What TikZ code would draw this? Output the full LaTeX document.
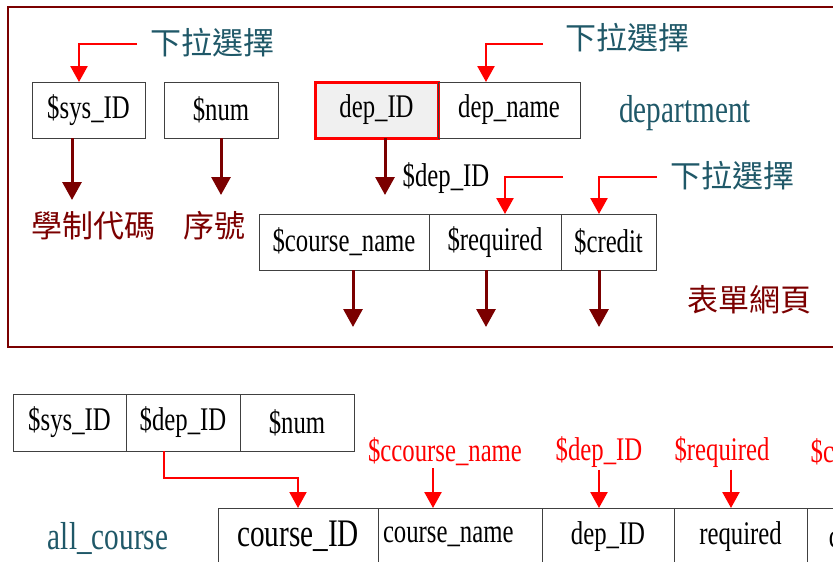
\documentclass[tikz,border=0pt]{standalone}
\usepackage{fontspec}
\setmainfont{Liberation Serif}[FakeStretch=0.75]
\newfontfamily\cjk{Noto Sans CJK TC}
\usepackage{xcolor}
\usepackage{tikz}
\usetikzlibrary{positioning,arrows.meta}
\definecolor{ink}{HTML}{404040}
\definecolor{flowred}{HTML}{7B0000}
\definecolor{tealtext}{HTML}{1F5868}
\definecolor{keygray}{HTML}{F0F0F0}
\newcommand\cellfont{\fontsize{33}{35}\selectfont}
\newcommand\bigfont{\fontsize{39}{42}\selectfont}
\newcommand\cjkfont{\cjk\fontsize{31}{33}\selectfont}
\tikzset{
  cell/.style={draw=ink, line width=1pt, inner sep=0pt, outer sep=0pt, minimum height=56pt, font=\cellfont},
  keycell/.style={cell, draw=red, fill=keygray, line width=3pt},
  pick/.style={draw=red, line width=2.5pt, -{Triangle[width=17pt,length=16pt]}},
  flow/.style={draw=flowred, line width=3pt, -{Triangle[width=19pt,length=18pt]}},
  tag/.style={text=tealtext, font=\cjkfont},
  zh/.style={text=flowred, font=\cjkfont},
  tname/.style={text=tealtext, font=\bigfont},
  redlab/.style={text=red, font=\cellfont, inner sep=2pt},
}
\begin{document}
\begin{tikzpicture}[x=1pt,y=-1pt]
  \useasboundingbox (0,0) rectangle (833,562);
  \clip (0,0) rectangle (833,562);

  % form page
  \draw[flowred, line width=2pt] (8,7) rectangle (845,347);
  \node[zh] (form) at (749,300) {表單網頁};

  % first row
  \node[cell, minimum width=113pt] (sys) at (88.5,110) {\$sys\_ID};
  \node[cell, minimum width=114pt] (num) at (221,110) {\$num};
  \node[keycell, minimum width=123pt] (depid) at (376.5,110) {dep\_ID};
  \node[cell, minimum width=142pt, right=0pt of depid] (depname) {dep\_name};
  \node[tname] (dept) at (685,113) {department};

  \node[tag] (sel1) at (212,43) {下拉選擇};
  \node[tag] (sel2) at (627,38) {下拉選擇};
  \coordinate (p1) at (137,44);
  \coordinate (p2) at (543,44);
  \draw[pick] (p1) -| ([xshift=-9.5pt]sys.north);
  \draw[pick] (p2) -| ([xshift=-23pt]depname.north);

  \node[zh] (sysname) at (93,226) {學制代碼};
  \node[zh] (numname) at (214,226) {序號};
  \coordinate (d1) at (72,200);
  \coordinate (d2) at (221,195);
  \coordinate (d3) at (385,195);
  \draw[flow] (sys.south -| d1) -- (d1);
  \draw[flow] (num.south -| d2) -- (d2);
  \draw[flow] (depid.south -| d3) -- (d3);
  \node[font=\cellfont] (depvar) at (446,178) {\$dep\_ID};

  % second row
  \node[cell, minimum width=170pt] (cname) at (344,242) {\$course\_name};
  \node[cell, minimum width=132pt, right=0pt of cname] (req) {\$required};
  \node[cell, minimum width=95pt, right=0pt of req] (cred) {\$credit};

  \node[tag] (sel3) at (732,176) {下拉選擇};
  \coordinate (p3) at (563,177);
  \coordinate (p4) at (657,177);
  \draw[pick] (p3) -| ([xshift=10pt]req.north);
  \draw[pick] (p4) -| ([xshift=-9.5pt]cred.north);

  \coordinate (o1) at (353,327);
  \coordinate (o2) at (486,327);
  \coordinate (o3) at (599,327);
  \draw[flow] (cname.south -| o1) -- (o1);
  \draw[flow] (req.south -| o2) -- (o2);
  \draw[flow] (cred.south -| o3) -- (o3);

  % posted values
  \node[cell, minimum width=113pt, minimum height=57pt] (sys2) at (69.5,422.5) {\$sys\_ID};
  \node[cell, minimum width=114pt, minimum height=57pt, right=0pt of sys2] (dep2) {\$dep\_ID};
  \node[cell, minimum width=114pt, minimum height=57pt, right=0pt of dep2] (num2) {\$num};

  % all_course table
  \node[tname] (allc) at (108,538) {all\_course};
  \node[cell, minimum width=160pt, minimum height=57pt, font=\bigfont] (cid) at (298,536.5) {course\_ID};
  \node[cell, minimum width=164pt, minimum height=57pt, text width=154pt, align=left, right=0pt of cid] (cname2) {course\_name};
  \node[cell, minimum width=132pt, minimum height=57pt, right=0pt of cname2] (bdep) {dep\_ID};
  \node[cell, minimum width=133pt, minimum height=57pt, right=0pt of bdep] (breq) {required};
  \node[cell, minimum width=100pt, minimum height=57pt, right=0pt of breq] (bcred) {credit};

  \draw[pick, line width=2pt] ([xshift=-19pt]dep2.south) -- ++(0,27) -| (cid.north);

  \node[redlab] (lcname) at (445,452) {\$ccourse\_name};
  \node[redlab] (ldep) at (599,452) {\$dep\_ID};
  \node[redlab] (lreq) at (722,452) {\$required};
  \node[redlab] (lcred) at (845,452) {\$credit};
  \draw[pick] ([xshift=-12pt]lcname.south) -- ([xshift=-12pt]lcname.south |- cname2.north);
  \draw[pick] (ldep.south) -- (ldep.south |- bdep.north);
  \draw[pick] ([xshift=9pt]lreq.south) -- ([xshift=9pt]lreq.south |- breq.north);
  \draw[pick] ([xshift=9pt]lcred.south) -- ([xshift=9pt]lcred.south |- bcred.north);
\end{tikzpicture}
\end{document}
